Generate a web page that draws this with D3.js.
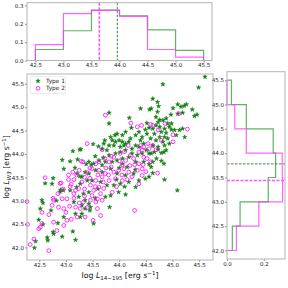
<!DOCTYPE html>
<html>
<head>
<meta charset="utf-8">
<script src="https://cdn.jsdelivr.net/npm/d3@7"></script>
<style>
  body { margin: 0; background: #fff; }
  text { font-family: "DejaVu Sans", sans-serif; }
</style>
</head>
<body>
<div id="chart"></div>
<script>
// Type 1 (stars) [log L14-195, log LW3]
const type1Points = [
  [43.13,44.06],[43.28,44.10],[43.22,43.88],[43.38,43.78],[43.43,43.83],
  [44.40,44.97],[44.57,44.95],[43.81,44.88],[44.19,44.77],[43.81,44.65],[44.52,44.66],[44.56,44.56],
  [44.49,44.52],[44.23,44.56],[44.37,44.47],[44.31,44.40],[44.43,44.36],[44.52,44.43],[44.40,44.29],
  [44.59,44.33],[44.21,44.33],[44.12,44.47],[44.06,44.40],[43.96,44.43],[43.92,44.40],[43.84,44.36],
  [43.87,44.29],[43.93,44.26],[44.00,44.29],[44.06,44.26],[44.12,44.22],[44.18,44.26],[44.09,44.18],
  [44.02,44.15],[43.90,44.18],[43.81,44.18],[43.73,44.29],[43.71,44.22],[43.51,44.21],[43.61,44.16],
  [43.68,44.11],[43.77,44.08],[43.81,43.97],[43.93,44.01],[44.02,44.04],[44.12,44.08],[44.24,44.11],
  [44.31,44.18],[44.37,44.15],[44.46,44.22],[44.51,44.08],[44.56,44.01],[44.43,44.01],[44.34,43.97],
  [44.24,44.01],[44.18,43.93],[44.06,43.90],[43.96,43.86],[43.87,43.83],[43.74,43.83],[43.62,43.86],
  [43.52,43.79],[43.68,43.76],[44.06,43.79],[44.31,43.83],[44.46,43.83],[44.56,43.78],
  [45.61,45.65],[45.49,45.42],[44.82,45.49],[44.63,45.18],[44.72,45.11],[44.74,45.02],[45.01,44.98],
  [45.10,45.06],[45.16,45.01],[45.22,45.03],[45.26,45.06],[45.37,44.95],[45.41,44.81],[45.46,44.84],
  [44.72,44.90],[44.60,44.97],[44.97,44.84],[45.10,44.86],[45.19,44.88],[44.69,44.79],[44.76,44.73],
  [44.73,44.68],[44.82,44.72],[44.88,44.76],[44.91,44.65],[44.98,44.65],[44.69,44.61],[44.63,44.54],
  [44.76,44.58],[44.85,44.54],[44.94,44.58],[44.66,44.43],[44.79,44.47],[44.88,44.45],[44.98,44.52],
  [45.04,44.51],[44.76,44.36],[44.85,44.36],[44.91,44.33],[44.69,44.29],[44.82,44.26],[44.63,44.18],
  [44.73,44.15],[44.85,44.18],[44.94,44.22],[44.66,44.04],[44.79,44.02],[44.84,44.04],[44.88,44.08],
  [44.73,44.09],[44.60,44.01],[45.13,44.51],[45.19,44.54],[45.23,44.36],[45.07,44.40],
  [44.63,43.83],[44.79,43.85],[44.84,43.79],[44.70,43.90],
  [42.96,43.68],[42.74,43.36],[42.90,43.23],[42.95,43.22],[42.55,43.01],[42.57,42.95],[42.52,42.83],
  [42.72,42.79],[42.82,43.00],[42.96,42.65],[42.49,42.59],[42.57,42.49],[42.85,42.52],[42.76,42.33],
  [42.77,42.29],[42.65,42.21],[42.66,42.15],[42.43,42.13],[42.41,41.99],[42.93,42.23],[43.13,42.34],
  [43.18,42.16],[43.08,43.22],[43.20,43.29],[43.27,43.36],[43.30,43.51],[43.21,43.58],[43.36,43.61],
  [43.40,43.43],[43.33,43.15],[43.24,43.08],[43.15,42.97],[43.30,42.90],[43.36,42.83],[43.18,42.72],
  [43.27,42.65],[43.36,43.01],[43.43,43.18],[43.43,42.93],[43.30,42.72],
  [43.56,43.65],[43.68,43.61],[43.84,43.68],[43.96,43.58],[44.12,43.54],[44.27,43.58],[44.37,43.43],
  [44.49,43.47],[44.56,43.51],[44.18,43.40],[44.02,43.36],[43.90,43.33],[43.77,43.33],[43.65,43.40],
  [43.49,43.43],[43.43,43.58],[43.99,43.18],[44.12,43.13],[43.84,43.11],[43.74,43.08],[44.31,43.29],
  [43.46,42.86],[43.45,42.79],[43.82,42.86],[43.52,42.51],
  [44.63,43.59],[44.85,43.45],[45.09,43.22],[44.60,43.72],
  [42.93,43.87],[42.76,43.48],[42.61,43.37],[42.89,43.19],[43.17,43.70],[43.08,43.84],[43.26,43.52],
  [43.48,43.77],[43.26,44.09],[43.55,43.95],[43.70,43.92],[44.00,43.70],[44.15,43.72],[44.30,43.66],
  [43.60,43.25],[43.95,43.45],[44.10,43.30],[43.55,43.05]
];

// Type 2 (open circles)
const type2Points = [
  [43.40,44.22],[43.32,43.83],
  [43.74,44.83],[44.22,44.66],[44.34,44.58],[44.42,44.61],[44.59,44.63],[44.54,44.22],[44.46,44.15],
  [44.43,44.08],[44.40,44.18],[44.56,44.11],[44.17,44.18],[44.37,44.04],[44.21,43.97],[44.27,43.90],
  [44.02,44.01],[43.68,44.09],[43.73,43.90],[43.62,43.83],[43.56,43.79],[43.81,43.83],[43.90,43.93],
  [44.12,43.86],[44.06,43.76],[44.37,43.79],[44.46,43.93],[44.52,43.90],[44.59,43.83],
  [45.12,44.86],[44.86,44.65],[44.63,44.61],[44.73,44.51],[45.28,44.53],[45.01,44.41],[44.79,44.29],
  [45.01,44.26],[44.63,44.18],[44.69,44.09],
  [43.13,43.61],[42.91,43.38],[43.10,43.35],[43.18,43.22],[43.24,43.26],[43.15,43.15],[43.02,43.04],
  [42.93,43.04],[42.77,43.01],[42.74,42.90],[42.86,42.86],[42.96,42.83],[43.07,42.88],[43.18,42.86],
  [43.27,42.83],[43.33,42.97],[43.21,42.65],[43.36,42.65],[42.27,42.98],[42.68,42.70],[42.77,42.54],
  [42.55,42.51],[42.49,42.40],[42.52,42.43],[42.28,42.49],[42.40,42.18],[42.33,42.06],[42.68,41.93],
  [43.02,42.58],[42.96,42.47],[42.83,42.36],
  [43.49,43.68],[43.62,43.65],[43.74,43.58],[43.90,43.61],[43.99,43.65],[44.09,43.68],[44.18,43.61],
  [44.34,43.65],[44.43,43.68],[44.24,43.51],[44.43,43.54],[44.37,43.36],[44.06,43.43],[43.93,43.47],
  [43.81,43.43],[43.68,43.51],[43.56,43.43],[43.46,43.33],[43.52,43.22],[43.62,43.29],[43.71,43.26],
  [43.65,43.15],[43.49,43.11],[43.59,43.04],[43.68,43.01],[43.56,42.97],[43.46,43.01],[43.59,42.83],
  [43.51,42.58],[43.65,42.68],[43.87,43.18],[44.29,42.79],
  [44.72,43.59],[44.50,43.62],[44.45,43.77],[44.29,43.77],
  [42.61,43.49],[42.89,43.37],[43.08,43.30],[42.76,43.05],[43.29,43.84],[43.20,43.55],[43.40,43.60],
  [43.30,43.40],[43.45,43.48],[43.85,43.72],[44.00,43.85],[43.75,43.70],[43.35,43.10],[43.05,43.45],
  [42.85,43.15],[43.60,43.55],[43.95,43.30],[44.15,43.45],
  [43.05,43.55],[43.15,43.45],[43.25,43.65],[43.35,43.50],[43.45,43.70],[43.55,43.30],[43.70,43.40],
  [43.80,43.55],[43.35,43.25],[43.15,43.05],[42.95,43.25],[43.25,42.95],[43.40,42.85],[43.00,42.75],
  [42.55,42.75],[43.10,42.60],[44.05,43.55],[44.20,43.75],[43.85,43.95],[44.10,44.05]
];

// Histograms (fractions per bin)
const topEdges = [42.5, 43.0, 43.5, 44.0, 44.5, 45.0, 45.5];
const topType1 = [0.060, 0.162, 0.275, 0.244, 0.167, 0.055];
const topType2 = [0.087, 0.256, 0.273, 0.240, 0.060, 0.018];
const rightEdges = [42.0, 42.5, 43.0, 43.5, 44.0, 44.5, 45.0, 45.5];
const rightType1 = [0.029, 0.071, 0.224, 0.264, 0.251, 0.105, 0.024];
const rightType2 = [0.051, 0.173, 0.302, 0.300, 0.105, 0.042, 0.0];
// Medians
const medX = [43.96, 43.64];
const medY = [43.78, 43.44];

const lumTicks = [42.5, 43.0, 43.5, 44.0, 44.5, 45.0, 45.5];
const lumTicksY = [42.0, 42.5, 43.0, 43.5, 44.0, 44.5, 45.0, 45.5];
const fracTicks = [0.0, 0.1, 0.2, 0.3];
const fracTicksR = [0.0, 0.2];

const green = "#108010", magenta = "#ff00ff";
const histGreen = "#3a9f3a", histPink = "#ff3cff";

const W = 288, H = 288;
const svg = d3.select("#chart").append("svg")
  .attr("width", W).attr("height", H);

// Panels
const mainP = {x0: 27, x1: 213, y0: 74, y1: 260};
const topP = {x0: 27, x1: 212, y0: 2.7, y1: 60.5};
const sideP = {x0: 227, x1: 285, y0: 71.7, y1: 259};

const xMain = d3.scaleLinear().domain([42.27, 45.76]).range([mainP.x0, mainP.x1]);
const yMain = d3.scaleLinear().domain([41.73, 45.71]).range([mainP.y1, mainP.y0]);
const xTop = d3.scaleLinear().domain([42.35, 45.65]).range([topP.x0, topP.x1]);
const yTop = d3.scaleLinear().domain([0, 0.315]).range([topP.y1, topP.y0]);
const ySide = d3.scaleLinear().domain([41.825, 45.675]).range([sideP.y1, sideP.y0]);
const xSide = d3.scaleLinear().domain([0, 0.315]).range([sideP.x0, sideP.x1]);

function styleAxis(g) {
  g.select(".domain").remove();
  g.selectAll(".tick line").attr("stroke", "#444").attr("stroke-width", 0.6);
  g.selectAll(".tick text").attr("fill", "#222").style("font-size", "5.5px");
}
function frame(p) {
  svg.append("rect")
    .attr("x", p.x0).attr("y", p.y0)
    .attr("width", p.x1 - p.x0).attr("height", p.y1 - p.y0)
    .attr("fill", "none").attr("stroke", "#b4b4b4").attr("stroke-width", 1);
}
const fmt = d3.format(".1f");

// Step outline like histtype='step'
function stepPts(edges, vals) {
  const pts = [[edges[0], 0]];
  vals.forEach((v, i) => { pts.push([edges[i], v]); pts.push([edges[i + 1], v]); });
  pts.push([edges[edges.length - 1], 0]);
  return pts;
}

// ---- top histogram
const gTop = svg.append("g");
const lineTop = d3.line().x(d => xTop(d[0])).y(d => yTop(d[1]));
[[topType1, histGreen], [topType2, histPink]].forEach(([vals, c]) => {
  gTop.append("path").attr("d", lineTop(stepPts(topEdges, vals)))
    .attr("fill", "none").attr("stroke", c).attr("stroke-width", 1.2).attr("stroke-opacity", 0.8);
});
gTop.append("line").attr("x1", xTop(medX[1])).attr("x2", xTop(medX[1]))
  .attr("y1", topP.y0).attr("y2", topP.y1)
  .attr("stroke", "#ff55ff").attr("stroke-width", 1.6).attr("stroke-dasharray", "3,1.5");
gTop.append("line").attr("x1", xTop(medX[0])).attr("x2", xTop(medX[0]))
  .attr("y1", topP.y0).attr("y2", topP.y1)
  .attr("stroke", "#1e7f1e").attr("stroke-width", 0.9).attr("stroke-dasharray", "2.5,1.5");
svg.append("g").attr("transform", `translate(0,${topP.y1})`)
  .call(d3.axisBottom(xTop).tickValues(lumTicks).tickFormat(fmt).tickSize(2).tickPadding(1))
  .call(styleAxis);
svg.append("g").attr("transform", `translate(${topP.x0},0)`)
  .call(d3.axisLeft(yTop).tickValues(fracTicks).tickFormat(fmt).tickSize(2).tickPadding(1.5))
  .call(styleAxis);
frame(topP);

// ---- right histogram
const gSide = svg.append("g");
const lineSide = d3.line().x(d => xSide(d[1])).y(d => ySide(d[0]));
[[rightType1, histGreen], [rightType2, histPink]].forEach(([vals, c]) => {
  gSide.append("path").attr("d", lineSide(stepPts(rightEdges, vals)))
    .attr("fill", "none").attr("stroke", c).attr("stroke-width", 1.2).attr("stroke-opacity", 0.8);
});
gSide.append("line").attr("y1", ySide(medY[1])).attr("y2", ySide(medY[1]))
  .attr("x1", sideP.x0).attr("x2", sideP.x1)
  .attr("stroke", "#ff55ff").attr("stroke-width", 1.6).attr("stroke-dasharray", "3,1.5");
gSide.append("line").attr("y1", ySide(medY[0])).attr("y2", ySide(medY[0]))
  .attr("x1", sideP.x0).attr("x2", sideP.x1)
  .attr("stroke", "#1e7f1e").attr("stroke-width", 0.9).attr("stroke-dasharray", "2.5,1.5");
svg.append("g").attr("transform", `translate(${sideP.x0},0)`)
  .call(d3.axisLeft(ySide).tickValues(lumTicksY).tickFormat(fmt).tickSize(2).tickPadding(1))
  .call(styleAxis);
svg.append("g").attr("transform", `translate(0,${sideP.y1})`)
  .call(d3.axisBottom(xSide).tickValues(fracTicksR).tickFormat(fmt).tickSize(2).tickPadding(1))
  .call(styleAxis);
frame(sideP);

// ---- main scatter
const star = d3.symbol().type(d3.symbolStar).size(6);
svg.append("g").selectAll("path")
  .data(type1Points).enter().append("path")
  .attr("d", star)
  .attr("transform", d => `translate(${xMain(d[0])},${yMain(d[1])})`)
  .attr("fill", green).attr("stroke", green).attr("stroke-width", 0.5);
svg.append("g").selectAll("circle")
  .data(type2Points).enter().append("circle")
  .attr("cx", d => xMain(d[0])).attr("cy", d => yMain(d[1]))
  .attr("r", 1.9).attr("fill", "none")
  .attr("stroke", magenta).attr("stroke-width", 0.8);

svg.append("g").attr("transform", `translate(0,${mainP.y1})`)
  .call(d3.axisBottom(xMain).tickValues(lumTicks).tickFormat(fmt).tickSize(2).tickPadding(1))
  .call(styleAxis);
svg.append("g").attr("transform", `translate(${mainP.x0},0)`)
  .call(d3.axisLeft(yMain).tickValues(lumTicksY).tickFormat(fmt).tickSize(2).tickPadding(1))
  .call(styleAxis);
frame(mainP);

// Legend
const leg = svg.append("g");
leg.append("rect").attr("x", 30.5).attr("y", 76.5).attr("width", 35).attr("height", 17)
  .attr("rx", 1.5).attr("fill", "#fff").attr("fill-opacity", 0.8)
  .attr("stroke", "#ddd").attr("stroke-width", 0.6);
leg.append("path").attr("d", star).attr("transform", "translate(38,81)")
  .attr("fill", green).attr("stroke", green).attr("stroke-width", 0.5);
leg.append("circle").attr("cx", 38).attr("cy", 88.3).attr("r", 1.9)
  .attr("fill", "none").attr("stroke", magenta).attr("stroke-width", 0.8);
leg.append("text").attr("x", 46).attr("y", 83).style("font-size", "5.8px").attr("fill", "#222").text("Type 1");
leg.append("text").attr("x", 46).attr("y", 90.3).style("font-size", "5.8px").attr("fill", "#222").text("Type 2");

// Axis labels
const xl = svg.append("text").attr("x", 120).attr("y", 278).attr("text-anchor", "middle")
  .style("font-size", "7.8px").attr("fill", "#111");
xl.append("tspan").text("log ");
xl.append("tspan").attr("font-style", "italic").text("L");
xl.append("tspan").attr("dy", 1.8).style("font-size", "5.5px").text("14\u2212195");
xl.append("tspan").attr("dy", -1.8).text(" [erg ");
xl.append("tspan").attr("font-style", "italic").text("s");
xl.append("tspan").attr("dy", -3).style("font-size", "5.5px").text("\u22121");
xl.append("tspan").attr("dy", 3).text("]");

const yl = svg.append("text").attr("transform", "translate(9,167) rotate(-90)")
  .attr("text-anchor", "middle").style("font-size", "7.8px").attr("fill", "#111");
yl.append("tspan").text("log ");
yl.append("tspan").attr("font-style", "italic").text("L");
yl.append("tspan").attr("dy", 1.8).attr("font-style", "italic").style("font-size", "5.5px").text("W3");
yl.append("tspan").attr("dy", -1.8).text(" [erg s");
yl.append("tspan").attr("dy", -3).style("font-size", "5.5px").text("\u22121");
yl.append("tspan").attr("dy", 3).text("]");
</script>
</body>
</html>
